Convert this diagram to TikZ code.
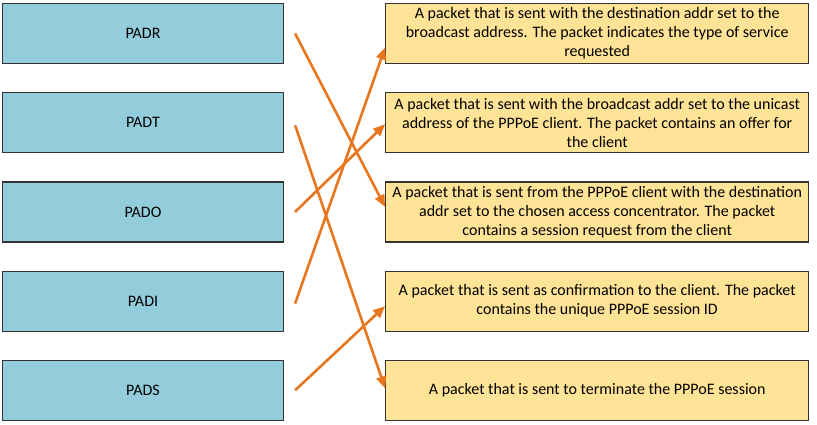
\documentclass[tikz,border=0pt]{standalone}
\usepackage{fontspec}
\setmainfont{Carlito}
\usetikzlibrary{arrows.meta,positioning,calc}
\definecolor{msgblue}{HTML}{93CDDC}
\definecolor{msgyellow}{HTML}{FFE396}
\definecolor{linkorange}{HTML}{E8761E}
\tikzset{
msgtype/.style={draw=black!80,fill=msgblue,line width=1.2pt,minimum width=281pt,minimum height=60pt,inner sep=0pt,font=\fontsize{16}{19}\selectfont},
meaning/.style={draw=black!80,fill=msgyellow,line width=1.2pt,minimum width=423pt,minimum height=60pt,inner sep=0pt,align=center,font=\fontsize{16}{19}\selectfont},
match/.style={-{Triangle[length=12pt,width=10pt]},line width=2.6pt,draw=linkorange}
}
\begin{document}
\begin{tikzpicture}[x=1pt,y=-1pt,node distance=28pt]
\useasboundingbox (0,0) rectangle (817,424);
% message types
\node[msgtype] (padr) at (143,33.5) {PADR};
\node[msgtype,below=of padr] (padt) {PADT};
\node[msgtype,below=of padt] (pado) {PADO};
\node[msgtype,below=of pado] (padi) {PADI};
\node[msgtype,below=of padi] (pads) {PADS};
% descriptions
\node[meaning,right=101pt of padr] (discover) {A packet that is sent with the destination addr set to the\\broadcast address. The packet indicates the type of service\\requested};
\node[meaning,right=101pt of padt] (offer) {A packet that is sent with the broadcast addr set to the unicast\\address of the PPPoE client. The packet contains an offer for\\the client};
\node[meaning,right=101pt of pado] (request) {A packet that is sent from the PPPoE client with the destination\\addr set to the chosen access concentrator. The packet\\contains a session request from the client};
\node[meaning,right=101pt of padi] (confirm) {A packet that is sent as confirmation to the client. The packet\\contains the unique PPPoE session ID};
\node[meaning,right=101pt of pads] (terminate) {A packet that is sent to terminate the PPPoE session};
% arrow ends
\coordinate (from-padr) at ($(padr.east)+(11,0)$);
\coordinate (from-padt) at ($(padt.east)+(11,2.5)$);
\coordinate (from-pado) at ($(pado.east)+(11,0)$);
\coordinate (from-padi) at ($(padi.east)+(11,2.5)$);
\coordinate (from-pads) at ($(pads.east)+(11,0)$);
\coordinate (to-discover) at ($(discover.west)+(0,14)$);
\coordinate (to-offer) at ($(offer.west)+(0,1.5)$);
\coordinate (to-request) at ($(request.west)+(0,-5)$);
\coordinate (to-confirm) at ($(confirm.west)+(0,5)$);
\coordinate (to-terminate) at ($(terminate.west)+(0,-2)$);
% matches
\draw[match](from-padr)--(to-request);
\draw[match](from-padt)--(to-terminate);
\draw[match](from-pado)--(to-offer);
\draw[match](from-padi)--(to-discover);
\draw[match](from-pads)--(to-confirm);
\end{tikzpicture}
\end{document}
